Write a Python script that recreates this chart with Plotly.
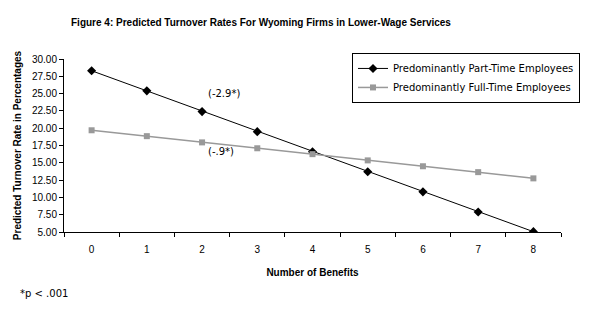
import plotly.graph_objects as go

benefits = ["0", "1", "2", "3", "4", "5", "6", "7", "8"]
part_time = [28.3, 25.4, 22.4, 19.5, 16.6, 13.7, 10.8, 7.9, 5.05]
full_time = [19.7, 18.85, 17.95, 17.1, 16.25, 15.35, 14.5, 13.65, 12.75]
y_ticks = [5.0, 7.5, 10.0, 12.5, 15.0, 17.5, 20.0, 22.5, 25.0, 27.5, 30.0]

W, H = 609, 324
ml, mr, mt, mb = 64, 48, 59, 92
ph = H - mt - mb
pw = W - ml - mr

fig = go.Figure()
fig.add_trace(go.Scatter(
    x=benefits, y=part_time, mode="lines+markers",
    name="Predominantly Part-Time Employees",
    line=dict(color="black", width=1),
    marker=dict(symbol="diamond", size=7, color="black"),
))
fig.add_trace(go.Scatter(
    x=benefits, y=full_time, mode="lines+markers",
    name="Predominantly Full-Time Employees",
    line=dict(color="#999999", width=1.5),
    marker=dict(symbol="square", size=6, color="#999999"),
))

font_fam = "Liberation Sans, Arial, sans-serif"

fig.update_layout(
    width=W, height=H,
    margin=dict(l=ml, r=mr, t=mt, b=mb),
    paper_bgcolor="white", plot_bgcolor="white",
    font=dict(family=font_fam, size=10, color="black"),
    showlegend=True,
    legend=dict(
        x=(352 - ml) / pw, y=1.035, xanchor="left", yanchor="top",
        bordercolor="black", borderwidth=1, bgcolor="white",
        font=dict(family="DejaVu Sans, sans-serif", size=10),
        tracegroupgap=0, itemwidth=30,
    ),
    xaxis=dict(
        type="category", range=[-0.5, 8.5],
        showline=True, linecolor="black", linewidth=1,
        ticks="outside", tickson="boundaries", ticklen=4, tickcolor="black",
        showgrid=False, zeroline=False,
        tickfont=dict(size=10), ticklabelstandoff=8,
        title=dict(text="<b>Number of Benefits</b>", font=dict(size=10), standoff=14),
    ),
    yaxis=dict(
        range=[5, 30], tickvals=y_ticks, tickformat=".2f",
        showline=True, linecolor="black", linewidth=1,
        ticks="outside", ticklen=4, tickcolor="black",
        showgrid=False, zeroline=False,
        tickfont=dict(size=10),
        title=dict(text="<b>Predicted Turnover Rate in Percentages</b>", font=dict(size=10), standoff=8),
    ),
)

fig.add_annotation(
    text="<b>Figure 4: Predicted Turnover Rates For Wyoming Firms in Lower-Wage Services</b>",
    xref="paper", yref="paper", x=(261 - ml) / pw, y=1 + (mt - 22) / ph,
    showarrow=False, font=dict(size=10), xanchor="center", yanchor="middle",
)
fig.add_annotation(text="(-2.9*)", xref="x", yref="y", x=2.4, y=25.0, showarrow=False,
                   font=dict(family="DejaVu Sans, sans-serif", size=10))
fig.add_annotation(text="(-.9*)", xref="x", yref="y", x=2.35, y=16.65, showarrow=False,
                   font=dict(family="DejaVu Sans, sans-serif", size=10))
fig.add_annotation(text="*p < .001", xref="paper", yref="paper",
                   x=(18 - ml) / pw, y=-(293 - (H - mb)) / ph,
                   xanchor="left", yanchor="middle", showarrow=False,
                   font=dict(family="DejaVu Sans, sans-serif", size=10))

fig.write_html("out.html")
